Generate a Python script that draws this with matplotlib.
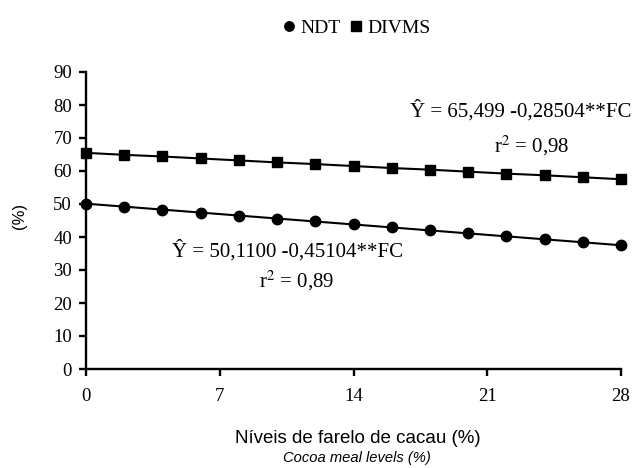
import numpy as np
import matplotlib.pyplot as plt

# niveis de farelo de cacau (%)
niveis = [0, 2, 4, 6, 8, 10, 12, 14, 16, 18, 20, 22, 24, 26, 28]
ndt = [50.1, 49.2, 48.3, 47.4, 46.5, 45.6, 44.7, 43.8, 42.9, 42.0, 41.1, 40.2, 39.3, 38.4, 37.5]
divms = [65.5, 64.9, 64.4, 63.8, 63.2, 62.6, 62.1, 61.5, 60.9, 60.4, 59.8, 59.2, 58.7, 58.1, 57.5]
xticks = [0, 7, 14, 21, 28]
yticks = [0, 10, 20, 30, 40, 50, 60, 70, 80, 90]

serif = 'Liberation Serif'
sans = 'Liberation Sans'

W, H = 635, 468
fig = plt.figure(figsize=(6.35, 4.68), dpi=100)
ax = fig.add_axes([86/W, 1 - 369/H, (621 - 86)/W, (369 - 72)/H])

ax.plot(niveis, ndt, color='black', lw=1.5, marker='o', ms=7.5, label='NDT', clip_on=False, zorder=3)
ax.plot(niveis, divms, color='black', lw=1.5, marker='s', ms=7.5, label='DIVMS', clip_on=False, zorder=3)

ax.set_xlim(0, 28)
ax.set_ylim(0, 90)
ax.set_xticks(xticks)
ax.set_yticks(yticks)
for s in ['top', 'right']:
    ax.spines[s].set_visible(False)
for s in ['left', 'bottom']:
    ax.spines[s].set_linewidth(1.7)
ax.tick_params(direction='out', width=1.7, length=5, labelsize=13.5)
ax.tick_params(axis='x', pad=9)
ax.tick_params(axis='y', pad=5)
for lab in ax.get_xticklabels() + ax.get_yticklabels():
    lab.set_family(serif)

fig.text(19/W, 1 - 216/H, '(%)', family=sans, fontsize=12, rotation=90, ha='center', va='center')
fig.text(358/W, 1 - 443/H, 'Níveis de farelo de cacau (%)', family=sans, fontsize=13.5,
         ha='center', va='baseline')
fig.text(357/W, 1 - 462/H, 'Cocoa meal levels (%)', family=sans, style='italic', fontsize=10.6,
         ha='center', va='baseline')

# equacoes de regressao
eq = dict(family=serif, fontsize=15, ha='center', va='baseline', math_fontfamily='stix')
ax.text(22.77, 76.4, 'Ŷ = 65,499 -0,28504**FC', **eq)
ax.text(23.3, 65.8, r'r$^{2}$ = 0,98', **eq)
ax.text(10.52, 34.2, 'Ŷ = 50,1100 -0,45104**FC', **eq)
ax.text(11.0, 24.8, r'r$^{2}$ = 0,89', **eq)

leg = fig.legend(loc='upper center', bbox_to_anchor=(357/W, 1.0), ncol=2, frameon=False,
                 prop={'family': serif, 'size': 14}, handlelength=0.6, handletextpad=0.3,
                 columnspacing=0.5, markerscale=0.9, borderpad=0.5)
for h in leg.legend_handles:
    h.set_linestyle('none')

plt.savefig('out.png', dpi=100)
